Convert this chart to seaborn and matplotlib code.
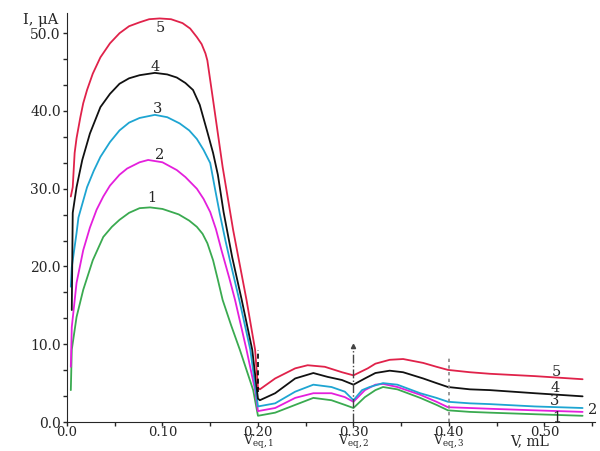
import numpy as np
import pandas as pd
import matplotlib.pyplot as plt
import matplotlib.transforms as mtransforms
import seaborn as sns

sns.set_style("ticks")
plt.rcParams['font.family'] = ['DejaVu Serif']
plt.rcParams['mathtext.fontset'] = 'dejavuserif'

# curve 1 (green)
v1 = [0.004, 0.005, 0.010, 0.017, 0.027, 0.038, 0.047, 0.055, 0.065, 0.076, 0.087, 0.100, 0.117,
      0.128, 0.136, 0.142, 0.147, 0.153, 0.158, 0.163, 0.172, 0.181, 0.188, 0.195, 0.200,
      0.218, 0.239, 0.258, 0.277, 0.291, 0.300, 0.312, 0.323, 0.331, 0.346, 0.370, 0.387,
      0.399, 0.422, 0.443, 0.490, 0.540]
i1 = [4.1, 9.3, 13.5, 17.0, 20.8, 23.8, 25.1, 26.0, 26.9, 27.5, 27.6, 27.4, 26.7,
      25.9, 25.1, 24.2, 23.0, 20.8, 18.3, 15.7, 12.4, 9.3, 6.7, 4.1, 0.8,
      1.2, 2.2, 3.1, 2.8, 2.2, 1.8, 3.2, 4.1, 4.5, 4.2, 3.1, 2.2,
      1.5, 1.3, 1.2, 1.0, 0.8]

# curve 2 (magenta)
v2 = [0.004, 0.005, 0.010, 0.017, 0.024, 0.031, 0.038, 0.045, 0.055, 0.063, 0.076, 0.085, 0.100,
      0.115, 0.124, 0.136, 0.143, 0.150, 0.156, 0.162, 0.170, 0.176, 0.188, 0.197, 0.200,
      0.218, 0.239, 0.258, 0.277, 0.291, 0.300, 0.312, 0.323, 0.331, 0.346, 0.370, 0.387,
      0.399, 0.422, 0.443, 0.490, 0.540]
i2 = [7.1, 12.2, 17.9, 22.1, 25.0, 27.3, 29.0, 30.4, 31.8, 32.6, 33.4, 33.7, 33.4,
      32.4, 31.5, 30.0, 28.7, 27.0, 24.8, 22.0, 18.5, 15.7, 9.3, 4.1, 1.4,
      1.8, 3.1, 3.7, 3.7, 3.2, 2.6, 4.1, 4.8, 4.9, 4.5, 3.5, 2.6,
      1.9, 1.8, 1.7, 1.5, 1.3]

# curve 3 (cyan)
v3 = [0.004, 0.005, 0.010, 0.012, 0.021, 0.028, 0.035, 0.045, 0.055, 0.065, 0.076, 0.092, 0.105,
      0.118, 0.128, 0.136, 0.143, 0.150, 0.155, 0.160, 0.166, 0.171, 0.181, 0.192, 0.200,
      0.218, 0.239, 0.258, 0.277, 0.291, 0.300, 0.309, 0.317, 0.331, 0.346, 0.370, 0.387,
      0.399, 0.422, 0.443, 0.490, 0.540]
i3 = [17.4, 19.9, 24.3, 26.3, 30.2, 32.3, 34.1, 36.0, 37.5, 38.5, 39.1, 39.5, 39.2,
      38.4, 37.5, 36.4, 35.0, 33.3, 30.0, 26.8, 23.3, 20.6, 15.4, 9.3, 2.0,
      2.4, 3.9, 4.8, 4.5, 3.9, 2.8, 4.1, 4.5, 5.0, 4.8, 3.7, 3.1,
      2.6, 2.4, 2.3, 2.0, 1.8]

# curve 4 (black)
v4 = [0.005, 0.006, 0.010, 0.016, 0.024, 0.035, 0.045, 0.055, 0.065, 0.076, 0.092, 0.105, 0.115,
      0.124, 0.132, 0.139, 0.147, 0.153, 0.158, 0.164, 0.173, 0.183, 0.194, 0.200,
      0.202, 0.218, 0.239, 0.258, 0.273, 0.288, 0.300, 0.312, 0.323, 0.338, 0.352, 0.373,
      0.387, 0.399, 0.422, 0.443, 0.490, 0.540]
i4 = [14.4, 26.9, 30.2, 33.7, 37.1, 40.5, 42.2, 43.5, 44.2, 44.6, 44.9, 44.7, 44.3,
      43.6, 42.7, 40.8, 37.3, 34.6, 31.8, 27.0, 21.2, 15.7, 9.3, 3.0,
      2.8, 3.7, 5.6, 6.3, 5.8, 5.4, 4.8, 5.6, 6.3, 6.6, 6.4, 5.6,
      5.0, 4.5, 4.2, 4.1, 3.7, 3.3]

# curve 5 (red)
v5 = [0.004, 0.006, 0.008, 0.010, 0.014, 0.017, 0.021, 0.027, 0.035, 0.045, 0.055, 0.065, 0.076,
      0.086, 0.097, 0.109, 0.121, 0.129, 0.136, 0.141, 0.145, 0.147, 0.153, 0.163, 0.174,
      0.188, 0.197, 0.200, 0.202, 0.218, 0.239, 0.252, 0.270, 0.288, 0.300, 0.315, 0.323,
      0.338, 0.352, 0.373, 0.387, 0.399, 0.422, 0.443, 0.490, 0.540]
i5 = [29.0, 30.2, 34.6, 36.5, 39.2, 41.0, 42.7, 44.8, 46.9, 48.7, 50.0, 50.9, 51.4,
      51.8, 51.9, 51.8, 51.3, 50.6, 49.5, 48.6, 47.4, 46.5, 41.4, 32.8, 24.7,
      15.7, 9.3, 4.4, 4.2, 5.6, 6.9, 7.3, 7.1, 6.4, 6.0, 6.9, 7.5,
      8.0, 8.1, 7.6, 7.1, 6.7, 6.4, 6.2, 5.9, 5.5]

curve_names = ["1", "2", "3", "4", "5"]
colors = ["#3aaa50", "#e41fdc", "#1ea5d2", "#111111", "#e0224a"]

# equivalence points and label texts
veq = [0.20, 0.30, 0.40]
veq_labels = [r"V$_{\rm eq,1}$", r"V$_{\rm eq,2}$", r"V$_{\rm eq,3}$"]

xticks = [0.0, 0.1, 0.2, 0.3, 0.4, 0.5]
xtick_labels = ["0.0", "0.10", "0.20", "0.30", "0.40", "0.50"]
yticks = [0, 10, 20, 30, 40, 50]
ytick_labels = ["0.0", "10.0", "20.0", "30.0", "40.0", "50.0"]

# label positions next to curves (peak labels and right-end labels)
top_lbl_v = [0.089, 0.097, 0.095, 0.092, 0.098]
top_lbl_i = [28.8, 34.4, 40.3, 45.7, 50.7]
end_lbl_v = [0.513, 0.551, 0.511, 0.511, 0.513]
end_lbl_i = [0.5, 1.5, 2.7, 4.4, 6.4]

frames = []
for name, v, i in zip(curve_names, [v1, v2, v3, v4, v5], [i1, i2, i3, i4, i5]):
    frames.append(pd.DataFrame({"V": v, "I": i, "curve": name}))
df = pd.concat(frames, ignore_index=True)

fig = plt.figure(figsize=(6, 4.51), dpi=100)
ax = fig.add_axes([67 / 600, 1 - 422 / 451, 528 / 600, 409 / 451])

sns.lineplot(data=df, x="V", y="I", hue="curve", palette=dict(zip(curve_names, colors)),
             estimator=None, sort=False, legend=False, linewidth=1.3, ax=ax)

# vertical markers at equivalence points
ax.vlines(veq[0], 3.9, 9.3, colors="black", linestyles=(0, (3, 2)), linewidth=1.2)
ax.vlines(veq[1], 0, 9.6, colors="#444444", linestyles="dashdot", linewidth=1.0)
ax.plot([veq[1]], [9.8], marker="^", color="#444444", markersize=3)
ax.vlines(veq[2], 0, 8.4, colors="#888888", linestyles=(0, (2, 2)), linewidth=1.2)

for n, x, y in zip(curve_names, top_lbl_v, top_lbl_i):
    ax.text(x, y, n, ha="center", va="center", fontsize=10.5)
for n, x, y in zip(curve_names, end_lbl_v, end_lbl_i):
    ax.text(x, y, n, ha="center", va="center", fontsize=10.5)

# x in data units, y in figure units for the labels under the axis
bottom = mtransforms.blended_transform_factory(ax.transData, fig.transFigure)
for x, lab in zip(veq, veq_labels):
    ax.text(x, 0.0, lab, transform=bottom, ha="center", va="bottom", fontsize=9)
ax.text(0.485, 0.006, "V, mL", transform=bottom, ha="center", va="bottom", fontsize=10)
fig.text(41 / 600, 1 - 20 / 451, "I, μA", ha="center", va="center", fontsize=10.5)

ax.set_xlim(0, 0.553)
ax.set_ylim(0, 52.6)
ax.set_xticks(xticks)
ax.set_xticklabels(xtick_labels)
ax.set_yticks(yticks)
ax.set_yticklabels(ytick_labels)
ax.set_xticks(np.arange(0.05, 0.56, 0.1), minor=True)
ax.set_yticks(np.arange(0, 52.6, 10 / 3), minor=True)
ax.tick_params(which="both", direction="out", length=3, width=1, labelsize=10)
ax.tick_params(axis="x", labelsize=9.5, pad=0)
ax.tick_params(axis="y", pad=1.5)
ax.set_xlabel("")
ax.set_ylabel("")
sns.despine(ax=ax)

fig.savefig("out.png", dpi=100)
